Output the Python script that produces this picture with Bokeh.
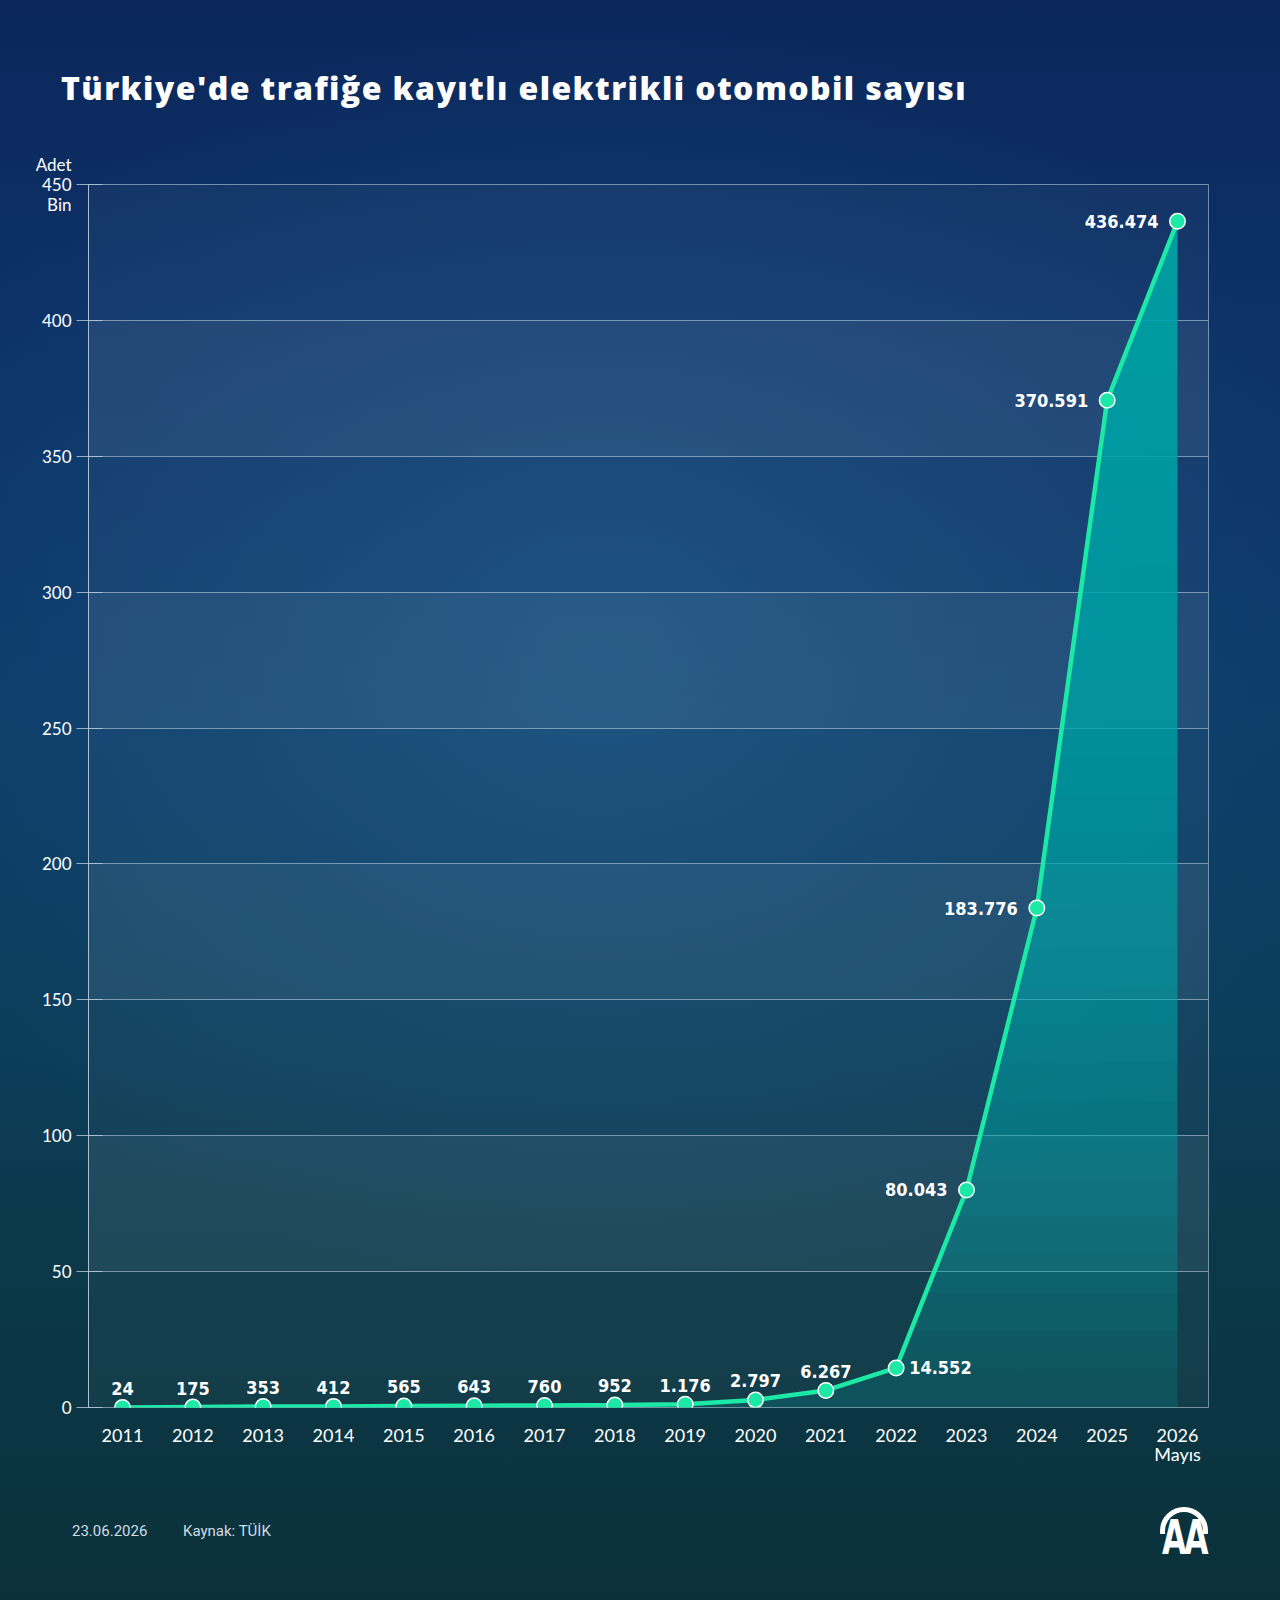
import numpy as np
from bokeh.plotting import figure
from bokeh.layouts import column
from bokeh.models import (FixedTicker, ColumnDataSource, Range1d, GlobalInlineStyleSheet, Div)
from bokeh.core.properties import value
from bokeh.embed import file_html
from bokeh.resources import INLINE

# ---------------- data ----------------
years = [2011, 2012, 2013, 2014, 2015, 2016, 2017, 2018, 2019, 2020,
         2021, 2022, 2023, 2024, 2025, 2026]
counts = [24, 175, 353, 412, 565, 643, 760, 952, 1176, 2797,
          6267, 14552, 80043, 183776, 370591, 436474]
year_labels = [str(y) for y in years]
year_labels[-1] = "2026\nMayıs"
y_ticks = [0, 50, 100, 150, 200, 250, 300, 350, 400, 450]
y_tick_labels = [str(t) for t in y_ticks]
y_tick_labels[-1] = "Adet\n450\nBin"
title_text = "Türkiye'de trafiğe kayıtlı elektrikli otomobil sayısı"
date_text = "23.06.2026"
source_text = "Kaynak: TÜİK"
logo_text = "AA"

# ---------------- layout ----------------
W, H = 1280, 1600
FL, FR, FT, FB = 88, 1208, 184, 1407
HEAD_H = 150
BORDER_BOTTOM = 80
MAIN_H = (FT - HEAD_H) + (FB - FT) + BORDER_BOTTOM
FOOT_TOP = HEAD_H + MAIN_H
FOOT_H = H - FOOT_TOP
PX_FIRST, PX_LAST = 122, 1177
step = (PX_LAST - PX_FIRST) / (years[-1] - years[0])
X0 = years[0] - (PX_FIRST - FL) / step
X1 = years[-1] + (FR - PX_LAST) / step
YMAX = 450

LINE = "#1de9a6"
FILL = "#00acac"
LABEL_FONT = value("DejaVu Sans Condensed")

bg_css = ("radial-gradient(ellipse 60% 40% at 47% 41%, rgba(34,104,158,0.42) 0%, "
          "rgba(30,100,150,0.20) 50%, rgba(30,100,150,0) 100%), "
          "linear-gradient(180deg, #0b275b 0%, #0d3368 22%, #0d3c68 45%, "
          "#0c3d5a 65%, #0b3846 82%, #0a313b 100%)")
sheet = GlobalInlineStyleSheet(css=(
    "html, body { margin:0 !important; padding:0; background:#0b3346; }"
    "body { background:" + bg_css + "; background-repeat:no-repeat; "
    "min-height:1600px; }"))

# ---------------- header (title) ----------------
head_html = (
    f'<div style="position:relative;width:{W}px;height:{HEAD_H}px;margin:0;padding:0;">'
    '<div style="position:absolute;left:61px;top:72px;font-family:\'Open Sans\';'
    'font-weight:800;font-size:32px;line-height:32px;color:#ffffff;white-space:nowrap;'
    f'letter-spacing:1.4px;">{title_text}</div></div>')
head = Div(text=head_html, width=W, height=HEAD_H, margin=(0, 0, 0, 0))

# ---------------- main chart ----------------
vals = [c / 1000 for c in counts]

p = figure(width=W, height=MAIN_H, x_range=Range1d(X0, X1), y_range=Range1d(0, YMAX),
           output_backend="svg", toolbar_location=None,
           min_border_left=FL, min_border_right=W - FR,
           min_border_top=FT - HEAD_H, min_border_bottom=BORDER_BOTTOM,
           border_fill_color=None, border_fill_alpha=0,
           background_fill_color="white", background_fill_alpha=0.035,
           outline_line_color="#c8d8ea", outline_line_alpha=0.55,
           margin=(0, 0, 0, 0))
p.stylesheets = [sheet]

p.xgrid.visible = False
p.ygrid.ticker = FixedTicker(ticks=y_ticks)
p.ygrid.grid_line_color = "#c8d8ea"
p.ygrid.grid_line_alpha = 0.55
p.ygrid.band_fill_color = "white"
p.ygrid.band_fill_alpha = 0.055

p.yaxis.ticker = FixedTicker(ticks=y_ticks)
p.yaxis.major_label_overrides = {t: lab for t, lab in zip(y_ticks, y_tick_labels)}
p.yaxis.axis_line_color = "#b8cadc"
p.yaxis.axis_line_alpha = 0.8
p.yaxis.major_tick_line_color = "#b8cadc"
p.yaxis.major_tick_line_alpha = 0.8
p.yaxis.major_tick_in = 14
p.yaxis.major_tick_out = 12
p.yaxis.minor_tick_line_color = None
p.yaxis.major_label_text_font = "Lato"
p.yaxis.major_label_text_font_size = "17px"
p.yaxis.major_label_text_color = "white"
p.yaxis.major_label_text_line_height = 0.95
p.yaxis.major_label_standoff = 5

p.xaxis.ticker = FixedTicker(ticks=years)
p.xaxis.major_label_overrides = {y: lab for y, lab in zip(years, year_labels)}
p.xaxis.axis_line_color = None
p.xaxis.major_tick_line_color = None
p.xaxis.minor_tick_line_color = None
p.xaxis.major_label_text_font = "Lato"
p.xaxis.major_label_text_font_size = "18px"
p.xaxis.major_label_text_color = "white"
p.xaxis.major_label_text_line_height = 0.9
p.xaxis.major_label_standoff = 10

# area with vertical gradient (stacked translucent layers)
p.harea(y=vals, x1=years, x2=[years[-1]] * len(years), fill_color=FILL, fill_alpha=0.2)
n_layers = 30
for k in range(1, n_layers + 1):
    t = vals[-1] * k / (n_layers + 1)
    idx = [i for i, v in enumerate(vals) if v > t]
    if not idx:
        continue
    x_t = float(np.interp(t, vals, years))
    ys = [t] + [vals[i] for i in idx]
    xs = [x_t] + [years[i] for i in idx]
    p.harea(y=ys, x1=xs, x2=[years[-1]] * len(ys), fill_color=FILL, fill_alpha=0.062)

src = ColumnDataSource(dict(x=years, y=vals,
                            lab=[f"{c:,}".replace(",", ".") for c in counts]))
p.line("x", "y", source=src, line_color=LINE, line_width=4.5)
p.scatter("x", "y", source=src, size=15.5, fill_color=LINE, line_color="white",
          line_width=1.5)


def sub(ix):
    return ColumnDataSource(dict(x=[years[i] for i in ix], y=[vals[i] for i in ix],
                                 lab=[src.data["lab"][i] for i in ix]))


above = list(range(0, 11))
right = [11]
left = [12, 13, 14, 15]
common = dict(text="lab", text_font=LABEL_FONT, text_font_style="bold",
              text_font_size="18px", text_color="white", text_baseline="alphabetic")
p.text("x", "y", source=sub(above), text_align="center", y_offset=-19, **common)
p.text("x", "y", source=sub(right), text_align="left", x_offset=13, y_offset=0, **common)
p.text("x", "y", source=sub(left), text_align="right", x_offset=-19, y_offset=0, **common)

# ---------------- footer ----------------
base_local = 1537 - FOOT_TOP
logo_top = 1507 - FOOT_TOP
foot_html = (
    f'<div style="position:relative;width:{W}px;height:{FOOT_H}px;margin:0;padding:0;">'
    f'<div style="position:absolute;left:72px;top:{base_local - 12.6:.1f}px;'
    'font-family:Roboto;font-size:15px;line-height:15px;color:#d0dce2;white-space:nowrap;">'
    f'{date_text}</div>'
    f'<div style="position:absolute;left:183px;top:{base_local - 12.6:.1f}px;'
    'font-family:Roboto;font-size:15px;line-height:15px;color:#d0dce2;white-space:nowrap;">'
    f'{source_text}</div>'
    f'<div style="position:absolute;left:1160px;top:{logo_top}px;width:48px;height:27px;'
    'overflow:hidden;">'
    '<div style="width:48px;height:48px;box-sizing:border-box;border:5.5px solid #ffffff;'
    'border-radius:50%;"></div></div>'
    f'<div style="position:absolute;left:1150px;width:68px;top:{1554 - FOOT_TOP - 40.6:.1f}px;'
    'text-align:center;font-family:\'DejaVu Sans\';font-weight:700;font-size:48px;'
    'line-height:48px;color:#ffffff;letter-spacing:-4px;transform:scaleX(0.66);'
    f'transform-origin:50% 50%;white-space:nowrap;">{logo_text}</div>'
    '</div>')
foot = Div(text=foot_html, width=W, height=FOOT_H, margin=(0, 0, 0, 0))

layout = column(head, p, foot, spacing=0)
open("out.html", "w").write(file_html(layout, INLINE))
